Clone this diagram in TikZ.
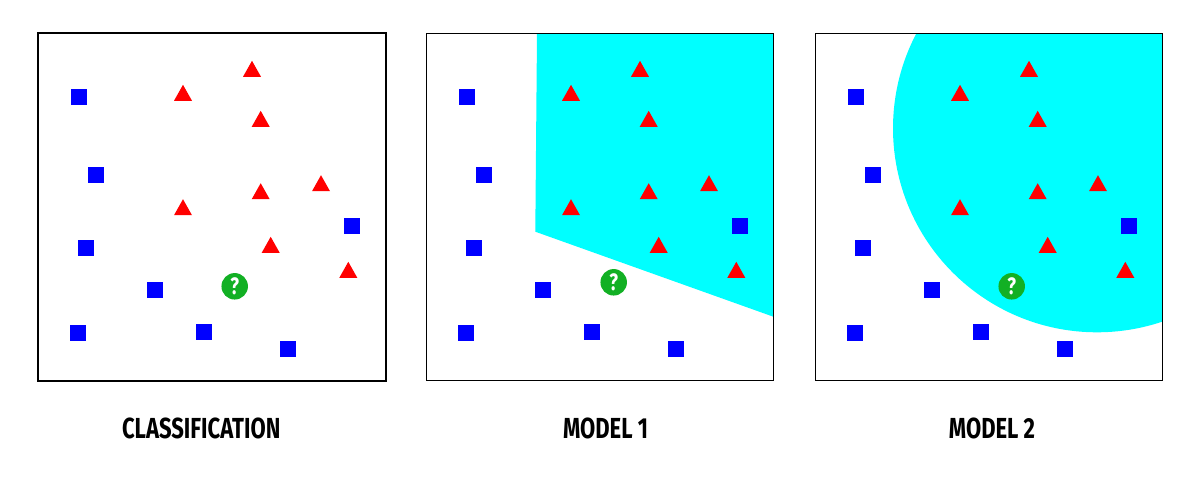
\documentclass[tikz,border=0pt]{standalone}
\usepackage{fontspec}
\newfontfamily\labelfont{Fira Sans}[FakeStretch=0.76]
\definecolor{sqblue}{RGB}{0,0,255}
\definecolor{trired}{RGB}{255,0,0}
\definecolor{zonecyan}{RGB}{0,255,255}
\definecolor{qgreen}{RGB}{18,176,36}
\tikzset{
  panelbox/.style={draw=black,line width=0.57pt},
  caption/.style={inner sep=0pt,font=\labelfont\bfseries\fontsize{16.5}{18}\selectfont},
  qmark/.style={circle,fill=qgreen,inner sep=0pt,minimum size=0.53cm,text=white,
    font=\labelfont\bfseries\fontsize{13.5}{14}\selectfont}
}
\begin{document}
\begin{tikzpicture}[x=0.02cm,y=-0.02cm]
\useasboundingbox (0,0) rectangle (1200,500);
\fill[zonecyan] (537,33.3) -- (535.3,231.7) -- (773.3,316.7) -- (773.3,33.3) -- cycle;
\begin{scope}
\clip (815.3,33.3) rectangle (1162.3,380.3);
\fill[zonecyan] (1097,128.3) circle[radius=204];
\end{scope}
\foreach \dx in {0,388,777} {
\foreach \x/\y in {78.7/97.3,95.7/175,85.7/248.3,154.7/290.3,78.3/332.7,204/332.3,288/348.7,351.7/225.7}
\fill[sqblue,shift={(\x+\dx,\y)}] (-8,-8) rectangle (8,8);
\foreach \x/\y in {252/68.8,183/92.8,260.7/118.8,321/183.2,260.7/191.2,183/207.2,270.7/244.8,348.3/269.8}
\fill[trired,shift={(\x+\dx,\y)}] (-9,8) -- (0,-8) -- (9,8) -- cycle;
}
\draw[panelbox,line width=1.13pt] (38.2,33.2) rectangle (386.2,380.7);
\draw[panelbox] (426.3,33.3) rectangle (773.3,380.3);
\draw[panelbox] (815.3,33.3) rectangle (1162.3,380.3);
\foreach \qx/\qy/\n in {234.7/286.3/1,613.7/282.3/2,1011.7/286.3/3}
\node[qmark] (q\n) at (\qx,\qy) {?};
\node[caption] (cap1) at (201.2,428.3) {CLASSIFICATION};
\node[caption] (cap2) at (605.5,428.3) {MODEL 1};
\node[caption] (cap3) at (992,428.3) {MODEL 2};
\end{tikzpicture}
\end{document}
